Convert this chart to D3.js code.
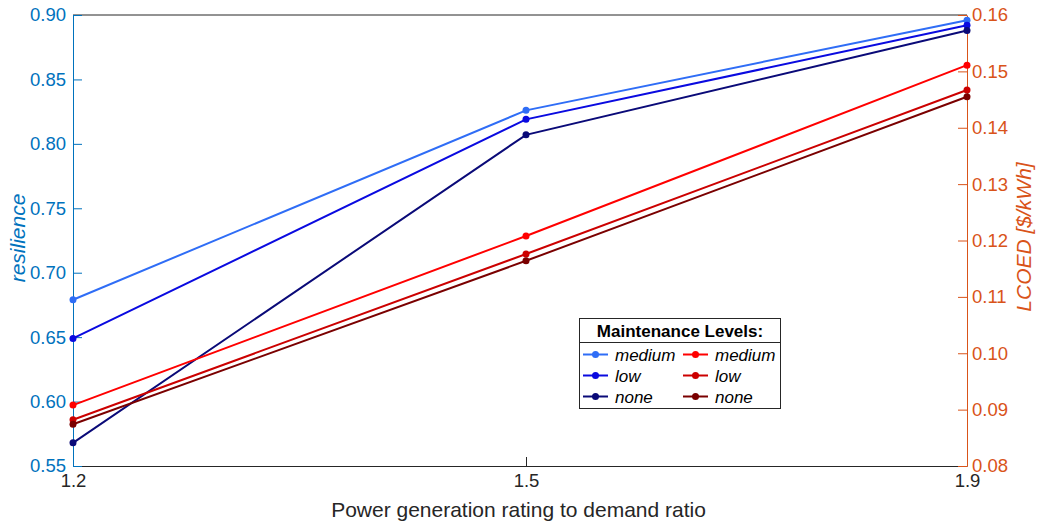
<!DOCTYPE html>
<html>
<head>
<meta charset="utf-8">
<script src="https://cdn.jsdelivr.net/npm/d3@7"></script>
<style>
  html, body { margin: 0; padding: 0; background: #fff; }
  svg { display: block; font-family: "Liberation Sans", Arial, sans-serif; }
</style>
</head>
<body>
<svg id="chart" width="1038" height="525"></svg>
<script>
// Power generation rating to demand ratio
const ratios = ["1.2", "1.5", "1.9"];
const levels = ["medium", "low", "none"];

// resilience (left axis) per maintenance level
const resMedium = [0.679, 0.826, 0.896];
const resLow    = [0.649, 0.819, 0.892];
const resNone   = [0.568, 0.807, 0.888];

// LCOED in $/kWh (right axis) per maintenance level
const lcoeMedium = [0.0908, 0.1208, 0.1511];
const lcoeLow    = [0.0882, 0.1176, 0.1467];
const lcoeNone   = [0.0874, 0.1164, 0.1455];

const resTicks  = [0.55, 0.60, 0.65, 0.70, 0.75, 0.80, 0.85, 0.90];
const lcoeTicks = [0.08, 0.09, 0.10, 0.11, 0.12, 0.13, 0.14, 0.15, 0.16];

const blueColors = ["#2f6df6", "#0a0ae0", "#0a0a78"];
const redColors  = ["#ff0000", "#cc0000", "#7a0000"];
const leftColor  = "#0072BD";
const rightColor = "#D95319";
const textColor  = "#262626";

const svg = d3.select("#chart");
const W = 1038, H = 525;
const m = { left: 73, right: W - 967, top: 15, bottom: H - 466 };

// ratio categories placed along the axis (middle category sits slightly right of centre)
const xi = d3.scaleLinear().domain([0, 1, 2]).range([m.left, 526, W - m.right]);
const x = r => xi(ratios.indexOf(r));
const yL = d3.scaleLinear().domain([0.55, 0.90]).range([H - m.bottom, m.top]);
const yR = d3.scaleLinear().domain([0.08, 0.16]).range([H - m.bottom, m.top]);

// top frame line
svg.append("line")
  .attr("x1", m.left).attr("x2", W - m.right)
  .attr("y1", m.top).attr("y2", m.top)
  .attr("stroke", textColor).attr("stroke-width", 1);

// bottom axis
const gx = svg.append("g").attr("transform", `translate(0,${H - m.bottom})`)
  .call(d3.axisBottom(xi).tickValues([0, 1, 2]).tickFormat(i => ratios[i])
    .tickSizeInner(-9).tickSizeOuter(0).tickPadding(8));
gx.select(".domain").attr("stroke", textColor);
gx.selectAll(".tick line").attr("stroke", textColor);
gx.selectAll("text").attr("fill", textColor).attr("font-size", 18.5);

// left axis
const gl = svg.append("g").attr("transform", `translate(${m.left},0)`)
  .call(d3.axisLeft(yL).tickValues(resTicks).tickFormat(d3.format(".2f"))
    .tickSizeInner(-9).tickSizeOuter(0).tickPadding(7));
gl.select(".domain").attr("stroke", leftColor);
gl.selectAll(".tick line").attr("stroke", leftColor);
gl.selectAll("text").attr("fill", leftColor).attr("font-size", 18.5);

// right axis
const gr = svg.append("g").attr("transform", `translate(${W - m.right},0)`)
  .call(d3.axisRight(yR).tickValues(lcoeTicks).tickFormat(d3.format(".2f"))
    .tickSizeInner(-9).tickSizeOuter(0).tickPadding(5));
gr.select(".domain").attr("stroke", rightColor);
gr.selectAll(".tick line").attr("stroke", rightColor);
gr.selectAll("text").attr("fill", rightColor).attr("font-size", 18.5);

// axis titles
svg.append("text")
  .attr("transform", `translate(25,238) rotate(-90)`)
  .attr("text-anchor", "middle").attr("font-size", 21).attr("font-style", "italic")
  .attr("fill", leftColor).text("resilience");
svg.append("text")
  .attr("transform", `translate(1031,237) rotate(-90)`)
  .attr("text-anchor", "middle").attr("font-size", 21).attr("font-style", "italic")
  .attr("fill", rightColor).text("LCOED [$/kWh]");
svg.append("text")
  .attr("x", 518.5).attr("y", 517)
  .attr("text-anchor", "middle").attr("font-size", 21)
  .attr("fill", textColor).text("Power generation rating to demand ratio");

// series
const series = [
  { vals: resMedium, y: yL, color: blueColors[0] },
  { vals: resLow,    y: yL, color: blueColors[1] },
  { vals: resNone,   y: yL, color: blueColors[2] },
  { vals: lcoeMedium, y: yR, color: redColors[0] },
  { vals: lcoeLow,    y: yR, color: redColors[1] },
  { vals: lcoeNone,   y: yR, color: redColors[2] }
];

series.forEach(s => {
  const line = d3.line().x((d, i) => x(ratios[i])).y(d => s.y(d));
  svg.append("path").datum(s.vals)
    .attr("d", line).attr("fill", "none")
    .attr("stroke", s.color).attr("stroke-width", 2);
  svg.append("g").selectAll("circle").data(s.vals).join("circle")
    .attr("cx", (d, i) => x(ratios[i])).attr("cy", d => s.y(d))
    .attr("r", 3.5).attr("fill", s.color);
});

// legend
const lg = svg.append("g").attr("transform", "translate(579.5,318.5)");
const lw = 201, lh = 90;
lg.append("rect").attr("width", lw).attr("height", lh)
  .attr("fill", "#fff").attr("stroke", textColor).attr("stroke-width", 1);
lg.append("line").attr("x1", 0).attr("x2", lw).attr("y1", 24).attr("y2", 24)
  .attr("stroke", textColor).attr("stroke-width", 1);
lg.append("text").attr("x", lw / 2).attr("y", 18.5)
  .attr("text-anchor", "middle").attr("font-size", 17).attr("font-weight", "bold")
  .attr("fill", "#000").text("Maintenance Levels:");

const cols = [
  { x0: 3.5, colors: blueColors },
  { x0: 103.5, colors: redColors }
];
cols.forEach(c => {
  levels.forEach((lev, i) => {
    const yy = 36 + i * 21;
    lg.append("line").attr("x1", c.x0).attr("x2", c.x0 + 25)
      .attr("y1", yy).attr("y2", yy).attr("stroke", c.colors[i]).attr("stroke-width", 2);
    lg.append("circle").attr("cx", c.x0 + 12.5).attr("cy", yy).attr("r", 3.5).attr("fill", c.colors[i]);
    lg.append("text").attr("x", c.x0 + 32).attr("y", yy + 6)
      .attr("font-size", 17).attr("font-style", "italic").attr("fill", "#000").text(lev);
  });
});
</script>
</body>
</html>
